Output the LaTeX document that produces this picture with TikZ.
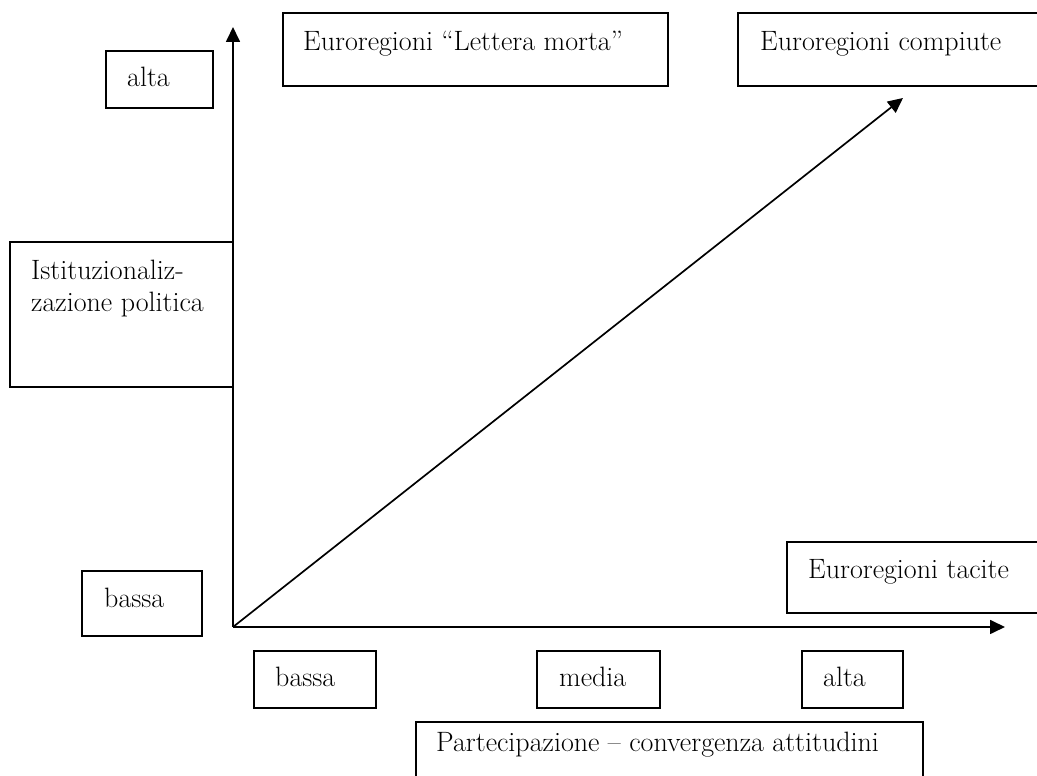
\documentclass[tikz,border=0pt]{standalone}
\usepackage{fontspec}
\usetikzlibrary{arrows.meta}
\tikzset{
  box/.style={draw, line width=1.8pt, rectangle, inner sep=0pt, outer sep=0pt, anchor=north west},
  lab/.style={anchor=base west, inner sep=0pt, font=\fontsize{28}{34}\selectfont},
  axis/.style={line width=1.7pt, -{Triangle[length=15pt,width=14pt]}}
}
\begin{document}
\begin{tikzpicture}[x=1pt,y=1pt]
\useasboundingbox (0,0) rectangle (1037,776);
\clip (0,0) rectangle (1037,776);
% boxes (top-left corner, width, height in px; y flipped)
\node[box, minimum width=107pt, minimum height=57pt] (altaYbox) at (106,725) {};
\node[box, minimum width=385pt, minimum height=73pt] (letterabox) at (283,763) {};
\node[box, minimum width=305pt, minimum height=73pt] (compiutebox) at (738,763) {};
\node[box, minimum width=223pt, minimum height=145pt] (istbox) at (10,534) {};
\node[box, minimum width=120pt, minimum height=65pt] (bassaYbox) at (82,205) {};
\node[box, minimum width=122pt, minimum height=57pt] (bassaXbox) at (254,125) {};
\node[box, minimum width=123pt, minimum height=57pt] (mediabox) at (537,125) {};
\node[box, minimum width=101pt, minimum height=57pt] (altaXbox) at (802,125) {};
\node[box, minimum width=256pt, minimum height=71pt] (tacitebox) at (787,234) {};
\node[box, minimum width=507pt, minimum height=70pt] (partbox) at (416,54) {};
% texts
\node[lab] (altaY) at (127,689) {alta};
\node[lab] (lettera) at (303,725) {Euroregioni “Lettera morta”};
\node[lab] (compiute) at (760,725) {Euroregioni compiute};
\node[lab] (ist1) at (31,496) {Istituzionaliz-};
\node[lab] (ist2) at (31,464) {zazione politica};
\node[lab] (bassaY) at (104,168) {bassa};
\node[lab] (bassaX) at (275,89) {bassa};
\node[lab] (media) at (559,89) {media};
\node[lab] (altaX) at (823,89) {alta};
\node[lab] (tacite) at (808,197) {Euroregioni tacite};
\node[lab] (part) at (436,24) {Partecipazione – convergenza attitudini};
% axes
\coordinate (O) at (233,149);
\coordinate (Ytop) at (233,749);
\coordinate (Xend) at (1005,149);
\coordinate (D) at (903,678);
\draw[axis] (O) -- (Ytop);
\draw[axis] (O) -- (Xend);
\draw[axis] (O) -- (D);
\end{tikzpicture}
\end{document}
